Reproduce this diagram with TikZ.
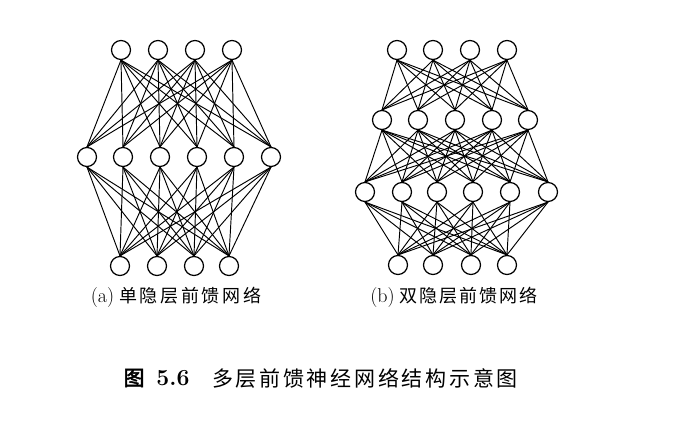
\documentclass[tikz,border=0pt]{standalone}
\usepackage{fontspec}
\newfontfamily\cjk{Noto Sans CJK SC}
\newfontfamily\cjkb[FakeBold=2.5]{Noto Sans CJK SC}
\begin{document}
\begin{tikzpicture}[x=1pt,y=-1pt,
  neuron/.style={circle,draw,line width=1.2pt,minimum size=19pt,inner sep=0pt,fill=white},
  edge/.style={line width=0.95pt},
  lbl/.style={inner sep=0pt,font=\fontsize{18}{21}\selectfont},
  captext/.style={inner sep=0pt,font=\fontsize{21}{24}\selectfont}]
\useasboundingbox (0,0) rectangle (681,423);
% ---------- (a) ----------
\foreach \x [count=\i] in {121,158,195,232} \node[neuron] (at\i) at (\x,50) {};
\foreach \x [count=\i] in {87,123,160,197,234,271} \node[neuron] (am\i) at (\x,157) {};
\foreach \x [count=\i] in {120,157,194,229} \node[neuron] (ab\i) at (\x,266) {};
\foreach \i in {1,...,4} \foreach \j in {1,...,6} {
  \draw[edge] (at\i.south) -- (am\j.north);
  \draw[edge] (ab\i.north) -- (am\j.south);
}
\node[lbl] (la) at (176,297) {{\fontsize{20}{22}\selectfont (a)}\hspace{5pt}\makebox[142pt]{\cjk 单\hfill 隐\hfill 层\hfill 前\hfill 馈\hfill 网\hfill 络}};
% ---------- (b) ----------
\foreach \x [count=\i] in {397,433,470,507} \node[neuron] (bt\i) at (\x,50) {};
\foreach \x [count=\i] in {382,418,455,492,528} \node[neuron] (bh\i) at (\x,120) {};
\foreach \x [count=\i] in {365,402,437,473,510,548} \node[neuron] (bm\i) at (\x,192) {};
\foreach \x [count=\i] in {398,433,471,507} \node[neuron] (bb\i) at (\x,265) {};
\foreach \i in {1,...,4} \foreach \j in {1,...,5} \draw[edge] (bt\i.south) -- (bh\j.north);
\foreach \i in {1,...,5} \foreach \j in {1,...,6} \draw[edge] (bh\i.south) -- (bm\j.north);
\foreach \i in {1,...,4} \foreach \j in {1,...,6} \draw[edge] (bb\i.north) -- (bm\j.south);
\node[lbl] (lb) at (454,297) {{\fontsize{20}{22}\selectfont (b)}\hspace{5pt}\makebox[138pt]{\cjk 双\hfill 隐\hfill 层\hfill 前\hfill 馈\hfill 网\hfill 络}};
% ---------- caption ----------
\node[captext] (c1) at (134,378) {\cjkb 图};
\node[captext,font=\fontsize{23}{26}\selectfont\bfseries] (c2) at (173,378) {5.6};
\node[captext] (c3) at (365,378) {\makebox[306pt]{\cjk 多\hfill 层\hfill 前\hfill 馈\hfill 神\hfill 经\hfill 网\hfill 络\hfill 结\hfill 构\hfill 示\hfill 意\hfill 图}};
\end{tikzpicture}
\end{document}
